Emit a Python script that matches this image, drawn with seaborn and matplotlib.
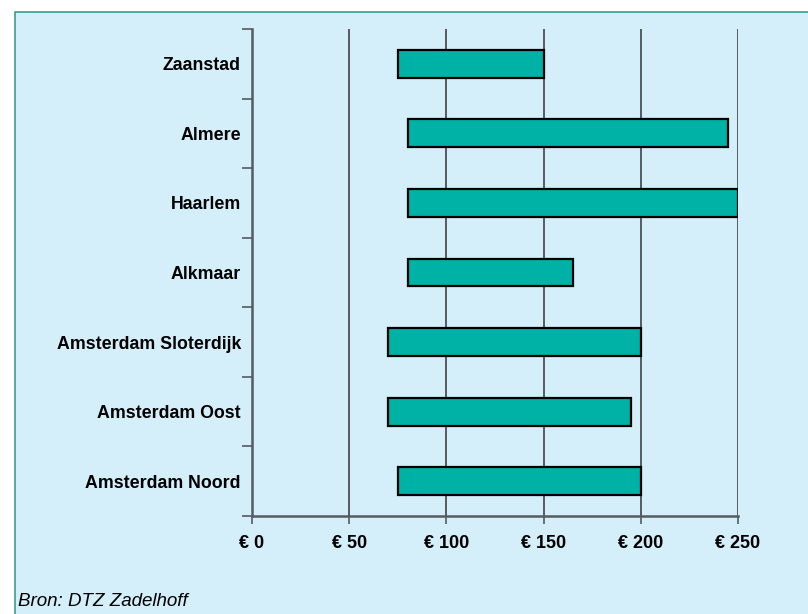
import matplotlib
matplotlib.use("Agg")
import matplotlib.pyplot as plt
from matplotlib.patches import Rectangle
from matplotlib.ticker import FixedLocator
import seaborn as sns
import pandas as pd
import numpy as np

# Huurprijsrange per locatie (euro per m2)
cities = ["Zaanstad", "Almere", "Haarlem", "Alkmaar",
          "Amsterdam Sloterdijk", "Amsterdam Oost", "Amsterdam Noord"]
low = [75, 80, 80, 80, 70, 70, 75]
high = [150, 245, 250, 165, 200, 195, 200]
xticks = [0, 50, 100, 150, 200, 250]
xtick_labels = ["€ 0", "€ 50", "€ 100", "€ 150", "€ 200", "€ 250"]
source = "Bron: DTZ Zadelhoff"

df = pd.DataFrame({"city": cities, "low": low, "high": high})

sns.set_style("white")
plt.rcParams["font.family"] = ["Liberation Sans", "DejaVu Sans"]
plt.rcParams["text.color"] = "black"
plt.rcParams["xtick.labelcolor"] = "black"
plt.rcParams["ytick.labelcolor"] = "black"

bg = "#D4EEFA"
bar_color = "#00B2A6"
axis_color = "#555B60"

fig = plt.figure(figsize=(8.08, 6.14), dpi=100)
fig.patch.set_facecolor("white")
# light-blue panel with teal border
panel = Rectangle((15 / 808, -0.05), 1.1, 1 - 12 / 614 + 0.05,
                  transform=fig.transFigure, facecolor=bg,
                  edgecolor="#3C9C8E", linewidth=1.2, zorder=-10)
fig.patches.append(panel)

ax = fig.add_axes([252 / 808, 1 - 516 / 614, (738 - 252) / 808, (516 - 29) / 614])
ax.set_zorder(1)
ax.patch.set_alpha(0)

sns.barplot(data=df, x="high", y="city", orient="h", color=bar_color,
            saturation=1, width=0.4, edgecolor="black", linewidth=1.6,
            ax=ax, zorder=3)
# turn bars into ranges: start each bar at its low value
for patch, lo, hi in zip(ax.patches, df["low"], df["high"]):
    patch.set_x(lo)
    patch.set_width(hi - lo)

ax.set_xlim(0, 250)
ax.set_ylim(len(cities) - 0.5, -0.5)
ax.set_xticks(xticks)
ax.set_xticklabels(xtick_labels, fontsize=13, fontweight="bold", color="black")
ax.set_ylabel("")
ax.set_xlabel("")
ax.tick_params(axis="y", which="major", length=0, pad=8, labelsize=12.8,
               labelcolor="black")
for lab in ax.get_yticklabels():
    lab.set_fontweight("bold")
ax.yaxis.set_minor_locator(FixedLocator(np.arange(-0.5, len(cities), 1.0)))
ax.tick_params(axis="y", which="minor", length=7, width=1.2, color=axis_color, left=True)
ax.tick_params(axis="x", which="major", length=6, width=1.2, color=axis_color,
               bottom=True, pad=8)

ax.grid(axis="x", color=axis_color, linewidth=1.4, zorder=1)
ax.set_axisbelow(True)
for side in ["top", "right"]:
    ax.spines[side].set_visible(False)
for side in ["left", "bottom"]:
    ax.spines[side].set_color(axis_color)
    ax.spines[side].set_linewidth(1.8)

fig.text(18 / 808, 1 - 601 / 614, source, fontsize=13.5, style="italic",
         va="center", ha="left", color="black")

fig.savefig("out.png", dpi=100, facecolor=fig.get_facecolor())
